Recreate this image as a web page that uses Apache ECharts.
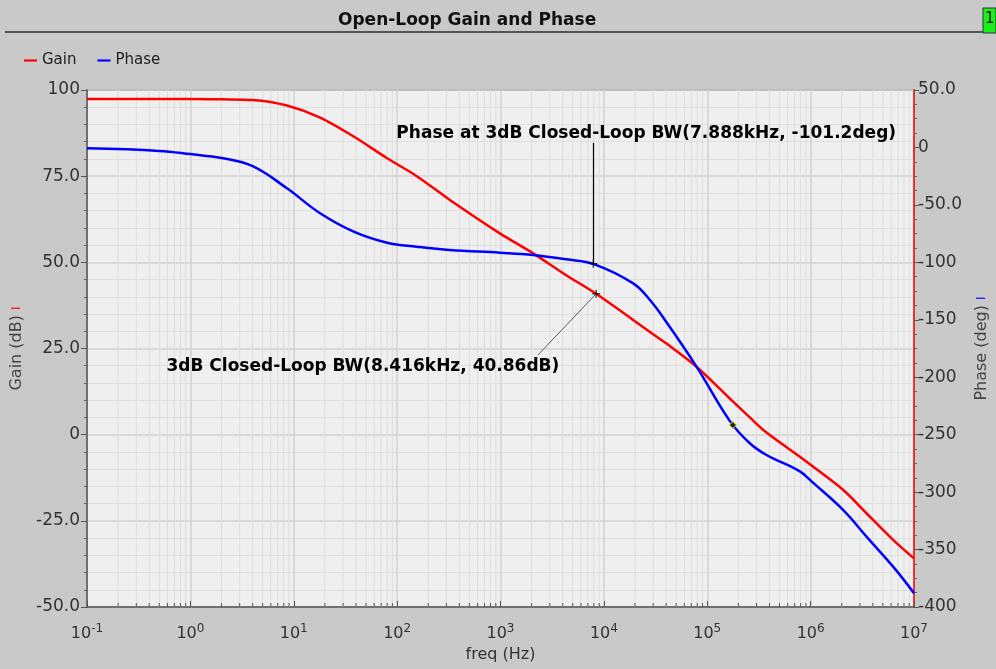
<!DOCTYPE html>
<html>
<head>
<meta charset="utf-8">
<title>Open-Loop Gain and Phase</title>
<script src="https://cdn.jsdelivr.net/npm/echarts@6/dist/echarts.min.js"></script>
<style>
  html, body { margin: 0; padding: 0; background: #c9c9c9; }
  #container { width: 996px; height: 669px; }
</style>
</head>
<body>
<div id="container"></div>
<script>
// frequency points (Hz)
var freq = [0.1, 0.5, 1, 2, 4, 8.6, 18, 38, 80, 155, 324, 986, 2070, 4350, 8000,
    19200, 27900, 40000, 78700, 165000, 258000, 374000, 787000, 1060000,
    2060000, 3470000, 6280000, 10000000];
// open-loop gain (dB)
var gainDb = [97.4, 97.4, 97.4, 97.3, 97.1, 95.5, 92.0, 86.5, 80.2, 75.0, 68.1, 58.4, 52.6, 46.2, 41.3,
    33.3, 29.8, 26.5, 19.7, 10.5, 5.0, 0.6, -6.4, -9.3,
    -16.0, -22.8, -30.5, -35.9];
// open-loop phase (deg)
var phaseDeg = [-0.8, -3.0, -5.8, -9.2, -16.3, -35.6, -57.3, -73.3, -82.9, -86.4, -89.3, -91.6, -93.6, -97.4, -101.5,
    -118.3, -132.8, -151.7, -190.8, -238, -257.5, -267.7, -282, -292,
    -315.5, -338.8, -364.9, -388];

// markers / annotations
var phaseMark = [7888, -101.2];
var phaseMarkText = "Phase at 3dB Closed-Loop BW(7.888kHz, -101.2deg)";
var gainMark = [8416, 40.86];
var gainMarkText = "3dB Closed-Loop BW(8.416kHz, 40.86dB)";
var phaseDot = [177000, -241.6];

var FONT = "DejaVu Sans";

var page = {
    chart: null,
    init: function () {
        this.chart = echarts.init(document.getElementById("container"), null, { renderer: "canvas" });
        this.chart.setOption(this.buildOption());
    },
    pairs: function (xs, ys) {
        var out = [];
        for (var i = 0; i < xs.length; i++) {
            out.push([xs[i], ys[i]]);
        }
        return out;
    },
    // 2..9 inside every decade, for the log grid
    minorFreqs: function () {
        var arr = [];
        for (var e = -1; e < 7; e++) {
            for (var m = 2; m <= 9; m++) {
                arr.push([m * Math.pow(10, e), 0]);
            }
        }
        return arr;
    },
    yLabel: function (v) {
        if (v === 0) return "0";
        if (Math.abs(v) >= 100) return String(v);
        return v.toFixed(1);
    },
    buildOption: function () {
        var that = this;
        var cross = "path://M0,5L10,5M5,0L5,10";
        return {
            backgroundColor: "#c9c9c9",
            animation: false,
            textStyle: { fontFamily: FONT },
            title: {
                text: "Open-Loop Gain and Phase",
                left: 333,
                top: 7,
                textStyle: { fontFamily: FONT, fontSize: 17, fontWeight: "bold", color: "#111" }
            },
            graphic: [
                {
                    type: "line",
                    shape: { x1: 5, y1: 32, x2: 983, y2: 32 },
                    style: { stroke: "#555", lineWidth: 2 }
                },
                {
                    type: "rect",
                    shape: { x: 983, y: 8, width: 13, height: 25 },
                    style: { fill: "#18f018", stroke: "#333", lineWidth: 1 }
                },
                {
                    type: "text",
                    left: 985,
                    top: 12,
                    style: { text: "1", fill: "#111", fontSize: 15, fontFamily: FONT }
                }
            ],
            legend: {
                data: ["Gain", "Phase"],
                left: 19,
                top: 48,
                icon: "path://M0,0h12v2h-12z",
                itemWidth: 13,
                itemHeight: 10,
                itemGap: 21,
                textStyle: { fontFamily: FONT, fontSize: 15, color: "#222" }
            },
            grid: {
                left: 87,
                right: 82,
                top: 90,
                bottom: 62,
                outerBoundsMode: "none",
                containLabel: false,
                show: true,
                backgroundColor: "#efefef",
                borderColor: "#666",
                borderWidth: 1.5
            },
            xAxis: {
                type: "log",
                logBase: 10,
                min: 0.1,
                max: 10000000,
                splitNumber: 8,
                name: "freq (Hz)",
                nameLocation: "middle",
                nameGap: 40,
                nameTextStyle: { fontFamily: FONT, fontSize: 16, color: "#333" },
                axisLine: { onZero: false, lineStyle: { color: "#555", width: 1.5 } },
                axisTick: { inside: true, length: 6, lineStyle: { color: "#555" } },
                axisLabel: {
                    margin: 16,
                    color: "#333",
                    fontFamily: FONT,
                    fontSize: 16,
                    formatter: function (v) {
                        return "10{s|" + Math.round(Math.log(v) / Math.LN10) + "}";
                    },
                    rich: {
                        s: { fontSize: 12, fontFamily: FONT, color: "#333", verticalAlign: "top", padding: [0, 0, 10, 0] }
                    }
                },
                splitLine: { show: true, lineStyle: { color: "#d2d2d2", width: 1.5 } }
            },
            yAxis: [
                {
                    type: "value",
                    min: -50,
                    max: 100,
                    interval: 25,
                    position: "left",
                    name: "Gain (dB) {r|I}",
                    nameLocation: "middle",
                    nameGap: 60,
                    nameRotate: 90,
                    nameTextStyle: {
                        fontFamily: FONT, fontSize: 16, color: "#444",
                        rich: { r: { color: "#ff0000", fontSize: 12, fontFamily: FONT } }
                    },
                    axisLine: { show: true, lineStyle: { color: "#555", width: 1.5 } },
                    axisTick: { show: true, length: 6, lineStyle: { color: "#555" } },
                    minorTick: { show: true, splitNumber: 5, length: 3, lineStyle: { color: "#666" } },
                    axisLabel: { margin: 7, color: "#333", fontFamily: FONT, fontSize: 17, formatter: that.yLabel },
                    splitLine: { show: true, lineStyle: { color: "#d2d2d2", width: 1.5 } },
                    minorSplitLine: { show: true, lineStyle: { color: "#e0e0e0" } }
                },
                {
                    type: "value",
                    min: -400,
                    max: 50,
                    interval: 50,
                    position: "right",
                    name: "Phase (deg) {b|I}",
                    nameLocation: "middle",
                    nameGap: 60,
                    nameRotate: 90,
                    nameTextStyle: {
                        fontFamily: FONT, fontSize: 16, color: "#444",
                        rich: { b: { color: "#0000ff", fontSize: 12, fontFamily: FONT } }
                    },
                    axisLine: { show: true, lineStyle: { color: "#ff0000", width: 1.5 } },
                    axisTick: { show: true, length: 5, lineStyle: { color: "#555" } },
                    minorTick: { show: true, splitNumber: 4, length: 3, lineStyle: { color: "#666" } },
                    axisLabel: { margin: 4, color: "#333", fontFamily: FONT, fontSize: 17, formatter: that.yLabel },
                    splitLine: { show: false }
                }
            ],
            series: [
                {
                    // minor log grid lines and ticks
                    type: "custom",
                    name: "grid",
                    silent: true,
                    z: 1,
                    yAxisIndex: 0,
                    data: that.minorFreqs(),
                    renderItem: function (params, api) {
                        var f = api.value(0);
                        var top = api.coord([f, 100]);
                        var bot = api.coord([f, -50]);
                        return {
                            type: "group",
                            children: [
                                {
                                    type: "line",
                                    shape: { x1: top[0], y1: top[1], x2: bot[0], y2: bot[1] },
                                    style: { stroke: "#dedede", lineWidth: 1 }
                                },
                                {
                                    type: "line",
                                    shape: { x1: bot[0], y1: bot[1], x2: bot[0], y2: bot[1] - 4 },
                                    style: { stroke: "#555", lineWidth: 1 }
                                }
                            ]
                        };
                    }
                },
                {
                    name: "Gain",
                    type: "line",
                    yAxisIndex: 0,
                    z: 3,
                    smooth: 0.3,
                    symbol: "none",
                    color: "#ff0000",
                    lineStyle: { color: "#ff0000", width: 2.5 },
                    data: that.pairs(freq, gainDb),
                    markLine: {
                        silent: true,
                        symbol: "none",
                        label: { show: false },
                        lineStyle: { color: "#333", width: 0.8, type: "solid" },
                        data: [[{ coord: gainMark }, { coord: [2300, 23.1] }]]
                    },
                    markPoint: {
                        silent: true,
                        data: [
                            {
                                coord: gainMark,
                                symbol: cross,
                                symbolSize: 8,
                                itemStyle: { color: "transparent", borderColor: "#000", borderWidth: 1 },
                                label: { show: false }
                            },
                            {
                                coord: [2300, 23.1],
                                symbolSize: 0,
                                label: {
                                    show: true,
                                    position: "inside",
                                    offset: [-175, 12],
                                    formatter: gainMarkText,
                                    color: "#000",
                                    fontFamily: FONT,
                                    fontSize: 17,
                                    fontWeight: "bold"
                                }
                            }
                        ]
                    }
                },
                {
                    name: "Phase",
                    type: "line",
                    yAxisIndex: 1,
                    z: 3,
                    smooth: 0.4,
                    symbol: "none",
                    color: "#0000ff",
                    lineStyle: { color: "#0000ff", width: 2.5 },
                    data: that.pairs(freq, phaseDeg),
                    markLine: {
                        silent: true,
                        symbol: "none",
                        label: { show: false },
                        lineStyle: { color: "#000", width: 1.2, type: "solid" },
                        data: [[{ coord: phaseMark }, { coord: [phaseMark[0], 4] }]]
                    },
                    markPoint: {
                        silent: true,
                        data: [
                            {
                                coord: phaseMark,
                                symbol: cross,
                                symbolSize: 8,
                                itemStyle: { color: "transparent", borderColor: "#000", borderWidth: 1 },
                                label: { show: false }
                            },
                            {
                                coord: [phaseMark[0], 4],
                                symbolSize: 0,
                                label: {
                                    show: true,
                                    position: "inside",
                                    offset: [53, -9],
                                    formatter: phaseMarkText,
                                    color: "#000",
                                    fontFamily: FONT,
                                    fontSize: 17,
                                    fontWeight: "bold"
                                }
                            },
                            {
                                coord: phaseDot,
                                symbol: "diamond",
                                symbolSize: 7,
                                itemStyle: { color: "#222", borderColor: "#e8e800", borderWidth: 1 },
                                label: { show: false }
                            }
                        ]
                    }
                }
            ]
        };
    }
};

page.init();
</script>
</body>
</html>
